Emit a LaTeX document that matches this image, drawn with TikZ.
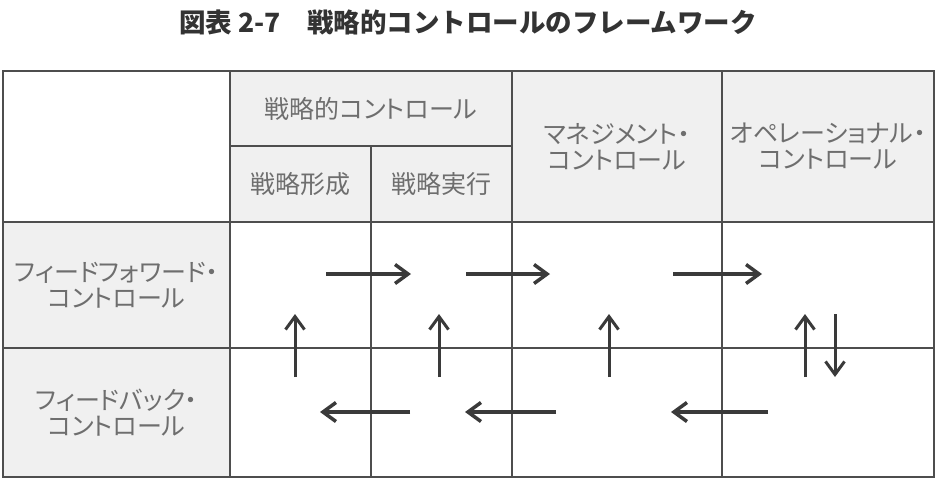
\documentclass[tikz,border=0pt]{standalone}
\usepackage{fontspec}
\newfontfamily\jpfont[RawFeature=+palt]{Noto Sans CJK JP}
\newfontfamily\jptitle{Noto Sans CJK JP}
\usepackage{xcolor}
\usepackage{tikz}
\usetikzlibrary{arrows.meta}
\definecolor{gridgray}{HTML}{4E4E4E}
\definecolor{cellgray}{HTML}{F0F0F0}
\definecolor{textgray}{HTML}{6E6E6E}
\definecolor{arrowgray}{HTML}{3A3A3A}
\definecolor{titlegray}{HTML}{333333}

\begin{document}
\begin{tikzpicture}[
  x=1pt, y=-1pt,
  cell/.style={draw=gridgray, line width=2.5pt, fill=white, inner sep=0pt, align=center,
    text=textgray, font=\jpfont\fontsize{25}{26}\selectfont},
  head/.style={cell, fill=cellgray},
  flow/.style={-{Straight Barb[length=13pt,width=19pt]}, line width=3.5pt, draw=arrowgray}
]
\useasboundingbox (0,0) rectangle (937,491);

\node[font=\jptitle\bfseries\fontsize{26.5}{30}\selectfont, text=titlegray] (title) at (468,22)
  {図表 2-7　戦略的コントロールのフレームワーク};

% header
\node[cell, minimum width=227pt, minimum height=151pt] (corner) at (116.5,146.5) {};
\node[head, minimum width=282pt, minimum height=75pt] (strategic) at (371,108.5) {戦略的コントロール};
\node[head, minimum width=141pt, minimum height=76pt] (formation) at (300.5,184) {戦略形成};
\node[head, minimum width=141pt, minimum height=76pt] (execution) at (441.5,184) {戦略実行};
\node[head, minimum width=210pt, minimum height=151pt] (management) at (617,146.5) {マネジメント・\\コントロール};
\node[head, minimum width=212pt, minimum height=151pt] (operational) at (828,146.5) {オペレーショナル・\\コントロール};

% rows
\node[head, minimum width=227pt, minimum height=126pt] (feedforward) at (116.5,285) {フィードフォワード・\\コントロール};
\node[head, minimum width=227pt, minimum height=129pt] (feedback) at (116.5,412.5) {フィードバック・\\コントロール};

\node[cell, minimum width=141pt, minimum height=126pt] (ff-form) at (300.5,285) {};
\node[cell, minimum width=141pt, minimum height=126pt] (ff-exec) at (441.5,285) {};
\node[cell, minimum width=210pt, minimum height=126pt] (ff-mgmt) at (617,285) {};
\node[cell, minimum width=212pt, minimum height=126pt] (ff-oper) at (828,285) {};
\node[cell, minimum width=141pt, minimum height=129pt] (fb-form) at (300.5,412.5) {};
\node[cell, minimum width=141pt, minimum height=129pt] (fb-exec) at (441.5,412.5) {};
\node[cell, minimum width=210pt, minimum height=129pt] (fb-mgmt) at (617,412.5) {};
\node[cell, minimum width=212pt, minimum height=129pt] (fb-oper) at (828,412.5) {};

% arrow ends
\coordinate (ff1a) at (326,274); \coordinate (ff1b) at (411,274);
\coordinate (ff2a) at (466,274); \coordinate (ff2b) at (550,274);
\coordinate (ff3a) at (673,274); \coordinate (ff3b) at (762,274);
\coordinate (fb1a) at (410,412); \coordinate (fb1b) at (320,412);
\coordinate (fb2a) at (556,412); \coordinate (fb2b) at (465,412);
\coordinate (fb3a) at (768,412); \coordinate (fb3b) at (671,412);
\coordinate (up1a) at (295,377); \coordinate (up1b) at (295,314);
\coordinate (up2a) at (439,377); \coordinate (up2b) at (439,314);
\coordinate (up3a) at (609,377); \coordinate (up3b) at (609,314);
\coordinate (up4a) at (805,377); \coordinate (up4b) at (805,314);
\coordinate (dn4a) at (835,314); \coordinate (dn4b) at (835,377);

\draw[flow] (ff1a) -- (ff1b);
\draw[flow] (ff2a) -- (ff2b);
\draw[flow] (ff3a) -- (ff3b);
\draw[flow] (fb1a) -- (fb1b);
\draw[flow] (fb2a) -- (fb2b);
\draw[flow] (fb3a) -- (fb3b);
\draw[flow, line width=3pt] (up1a) -- (up1b);
\draw[flow, line width=3pt] (up2a) -- (up2b);
\draw[flow, line width=3pt] (up3a) -- (up3b);
\draw[flow, line width=3pt] (up4a) -- (up4b);
\draw[flow, line width=3pt] (dn4a) -- (dn4b);

\end{tikzpicture}
\end{document}
